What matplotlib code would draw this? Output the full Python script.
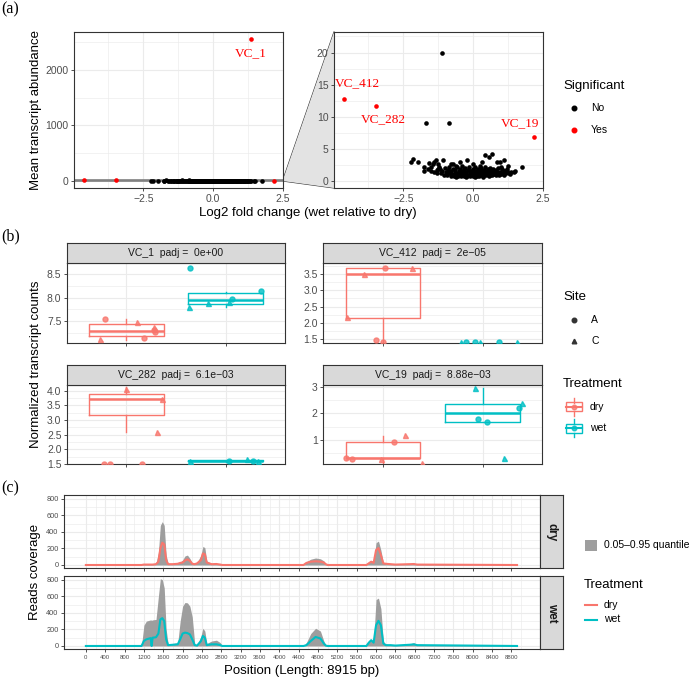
import numpy as np
import matplotlib
matplotlib.use("Agg")
import matplotlib.pyplot as plt
from matplotlib.patches import Rectangle, Polygon
from matplotlib.lines import Line2D

plt.rcParams['font.family'] = ['Liberation Sans', 'DejaVu Sans']

W, H = 697, 679
RED = '#F8766D'
TEAL = '#00BFC4'
GRID = '#ebebeb'
FRAME = '#333333'
TICKC = '#4d4d4d'
SERIF = ['Liberation Serif', 'DejaVu Serif']

# ---------------- (a) fold change vs abundance ----------------
sig_x = [1.34, -4.63, -3.48, 2.18]
sig_y = [2551, 12.8, 11.66, 6.8]
sig_lab = ['VC_1', 'VC_412', 'VC_282', 'VC_19']

ns_pts = [(-1.12, 20.0), (-1.67, 9.0), (-0.88, 9.0),
          (-2.24, 2.95), (-2.15, 3.42), (-1.98, 2.90), (-1.75, 2.13), (-1.75, 1.6),
          (-1.58, 2.75), (-1.44, 2.6), (-1.34, 3.3), (-1.39, 3.0), (-1.41, 1.45),
          (-1.07, 3.24), (-1.22, 2.2), (-0.81, 2.7), (-0.72, 2.6), (-0.47, 3.0),
          (-0.21, 3.27), (0.25, 2.33), (0.44, 4.05), (0.56, 3.7), (0.68, 4.27),
          (0.85, 2.88), (0.97, 2.9), (1.09, 3.2), (1.23, 2.38), (1.51, 1.5),
          (1.35, 1.45), (1.75, 2.2), (-1.6, 1.9), (-1.5, 2.2), (-1.3, 1.7),
          (-1.25, 2.6), (-0.6, 2.4), (0.0, 2.6), (0.3, 2.9), (1.0, 2.2), (1.1, 1.6),
          (1.2, 1.9), (1.45, 1.4), (-1.5, 1.5),
          (-1.2, 1.9), (-1.15, 1.3), (-1.1, 1.6), (-1.05, 1.0), (-1.0, 2.0), (-0.98, 1.4),
          (-0.95, 0.9), (-0.9, 1.7), (-0.88, 1.2), (-0.85, 2.2), (-0.8, 0.8), (-0.78, 1.5),
          (-0.75, 1.1), (-0.72, 1.9), (-0.7, 0.7), (-0.66, 1.3), (-0.64, 1.7), (-0.6, 1.0),
          (-0.58, 2.1), (-0.55, 0.8), (-0.52, 1.5), (-0.5, 1.2), (-0.48, 1.8), (-0.45, 0.7),
          (-0.42, 1.4), (-0.4, 2.3), (-0.38, 1.0), (-0.35, 1.6), (-0.32, 0.8), (-0.3, 1.2),
          (-0.28, 2.0), (-0.25, 1.4), (-0.22, 0.7), (-0.2, 1.7), (-0.18, 1.0), (-0.15, 2.2),
          (-0.12, 1.3), (-0.1, 0.8), (-0.08, 1.6), (-0.05, 1.1), (-0.02, 1.9), (0.0, 0.7),
          (0.02, 1.4), (0.05, 2.1), (0.08, 1.0), (0.1, 1.6), (0.12, 0.8), (0.15, 1.3),
          (0.18, 1.9), (0.2, 1.1), (0.22, 0.7), (0.25, 1.5), (0.28, 2.0), (0.3, 1.0),
          (0.32, 1.3), (0.35, 0.8), (0.38, 1.7), (0.4, 1.2), (0.42, 2.2), (0.45, 0.9),
          (0.48, 1.5), (0.5, 1.1), (0.52, 1.8), (0.55, 0.8), (0.58, 1.3), (0.6, 2.0),
          (0.62, 1.0), (0.65, 1.6), (0.68, 0.9), (0.7, 1.3), (0.72, 1.9), (0.75, 1.1),
          (0.78, 1.5), (0.8, 0.9), (0.83, 1.7), (0.86, 1.2), (0.9, 2.0), (0.93, 1.0),
          (0.96, 1.4), (1.0, 1.1), (1.03, 1.8), (1.06, 1.3), (1.1, 1.0), (1.14, 1.5),
          (1.18, 1.2), (1.22, 1.6), (1.28, 1.3), (1.32, 1.1), (-1.3, 1.2), (-1.25, 1.8),
          (-0.62, 0.6), (-0.27, 0.6), (0.07, 0.6), (0.37, 0.6), (-0.43, 1.0), (-0.13, 1.5),
          (0.17, 1.2), (-0.33, 1.8), (0.03, 1.2), (-0.07, 1.0), (0.27, 1.7), (0.45, 1.3),
          (-0.55, 1.3), (0.6, 1.5), (-0.85, 1.5), (0.85, 1.4)]
ns_x = [p[0] for p in ns_pts]
ns_y = [p[1] for p in ns_pts]

# ---------------- (b) boxplots ----------------
genes = ['VC_1', 'VC_412', 'VC_282', 'VC_19']
padj = ['0e+00', '2e\u221205', '6.1e\u221203', '8.88e\u221203']
# (jitter offset, value, site)
vc1_dry = [(-0.22, 7.54, 'A'), (-0.27, 7.12, 'C'), (0.11, 7.49, 'C'), (0.18, 7.14, 'A'),
           (0.28, 7.37, 'C'), (0.29, 7.26, 'A'), (0.28, 7.31, 'A')]
vc1_wet = [(-0.36, 8.64, 'A'), (-0.37, 7.81, 'C'), (-0.18, 7.88, 'C'), (0.07, 7.97, 'A'),
           (0.03, 7.91, 'C'), (0.36, 8.14, 'A')]
vc412_dry = [(0.02, 3.69, 'A'), (0.29, 3.70, 'C'), (-0.19, 3.51, 'C'), (-0.36, 2.18, 'C'),
             (-0.07, 1.47, 'A'), (0.0, 1.40, 'A')]
vc412_wet = [(-0.22, 1.41, 'C'), (-0.17, 1.41, 'A'), (-0.08, 1.41, 'A'), (-0.03, 1.41, 'C'),
             (0.17, 1.41, 'A'), (0.35, 1.41, 'C')]
vc282_dry = [(0.0, 4.08, 'C'), (0.36, 3.71, 'C'), (0.31, 2.6, 'C'), (-0.23, 1.5, 'A'),
             (-0.17, 1.5, 'A'), (0.16, 1.5, 'A')]
vc282_wet = [(-0.36, 1.59, 'C'), (0.03, 1.6, 'A'), (0.22, 1.67, 'C'), (0.28, 1.6, 'A'),
             (0.33, 1.6, 'C')]
vc19_dry = [(0.22, 1.2, 'C'), (0.11, 0.91, 'A'), (-0.37, 0.31, 'A'), (-0.31, 0.28, 'A'),
            (-0.02, 0.29, 'C'), (0.39, 0.12, 'C')]
vc19_wet = [(-0.08, 2.94, 'C'), (0.40, 2.4, 'C'), (0.37, 2.21, 'A'), (-0.05, 1.78, 'A'),
            (0.04, 1.66, 'A'), (0.22, 0.34, 'C')]
# (whislo, q1, median, q3, whishi)
vc1_box = [(7.11, 7.18, 7.29, 7.43, 7.54), (7.81, 7.87, 7.94, 8.10, 8.12)]
vc412_box = [(1.38, 2.16, 3.50, 3.69, 3.69), (1.30, 1.30, 1.30, 1.30, 1.30)]
vc282_box = [(2.60, 3.17, 3.71, 3.89, 4.14), (1.58, 1.59, 1.60, 1.62, 1.63)]
vc19_box = [(0.12, 0.31, 0.33, 0.91, 1.15), (1.66, 1.69, 2.00, 2.35, 2.94)]

# ---------------- (c) coverage ----------------
pos = [0, 1150, 1200, 1250, 1340, 1360, 1380, 1450, 1500, 1540, 1580, 1620, 1660, 1700,
       1800, 1900, 1950, 2000, 2050, 2100, 2150, 2200, 2250, 2300, 2380, 2420, 2460, 2500,
       2600, 2700, 2780, 2820, 4500, 4560, 4650, 4750, 4850, 4920, 4960, 5000, 5800, 5850,
       5900, 5950, 6000, 6050, 6100, 6150, 6200, 6300, 6400, 6700, 6780, 6850, 8915]
dry_mean = [0, 0, 5, 5, 5, 5, 5, 10, 40, 200, 270, 250, 60, 10,
            10, 15, 25, 30, 55, 68, 50, 15, 10, 20, 60, 140, 130, 30,
            10, 12, 5, 0, 0, 25, 40, 45, 40, 30, 10, 0, 0, 20,
            40, 25, 180, 205, 120, 20, 15, 10, 5, 10, 12, 5, 0]
dry_upper = [0, 0, 8, 8, 8, 8, 8, 20, 150, 480, 525, 480, 120, 20,
             15, 20, 35, 60, 110, 120, 80, 25, 15, 30, 120, 225, 210, 50,
             15, 15, 8, 0, 0, 40, 70, 85, 75, 50, 15, 0, 0, 30,
             55, 40, 270, 290, 180, 30, 20, 15, 8, 15, 18, 8, 0]
wet_mean = [0, 0, 60, 80, 95, 0, 100, 105, 150, 320, 336, 300, 80, 10,
            15, 20, 80, 150, 161, 155, 140, 80, 10, 5, 60, 121, 100, 10,
            20, 20, 10, 0, 0, 10, 60, 109, 90, 30, 5, 0, 0, 40,
            70, 40, 250, 303, 250, 30, 10, 10, 5, 15, 20, 10, 0]
wet_upper = [0, 0, 250, 300, 315, 310, 315, 320, 600, 812, 800, 700, 200, 30,
             30, 40, 300, 480, 525, 520, 480, 350, 30, 10, 120, 214, 180, 30,
             60, 70, 40, 0, 0, 40, 150, 214, 180, 60, 10, 0, 0, 60,
             70, 60, 560, 578, 450, 60, 20, 15, 8, 25, 40, 20, 0]

fig = plt.figure(figsize=(W / 100, H / 100), dpi=100)


def add_ax(l, t, r, b):
    return fig.add_axes([l / W, 1 - b / H, (r - l) / W, (b - t) / H])


def fx(x):
    return x / W


def fy(y):
    return 1 - y / H


def style(ax, xmaj, xmin, ymaj, ymin, size=7.5, xlabels=True):
    for s in ax.spines.values():
        s.set_color(FRAME)
        s.set_linewidth(0.8)
    ax.set_xticks(xmaj)
    ax.set_xticks(xmin, minor=True)
    ax.set_yticks(ymaj)
    ax.set_yticks(ymin, minor=True)
    ax.grid(which='major', color=GRID, lw=0.8)
    ax.grid(which='minor', color=GRID, lw=0.45)
    ax.set_axisbelow(True)
    ax.tick_params(which='major', length=2.5, width=0.6, color=FRAME,
                   labelcolor=TICKC, labelsize=size, pad=1.5)
    ax.tick_params(which='minor', length=0)
    if not xlabels:
        ax.set_xticklabels([])


def strip(l, t, r, b, text, rot=0, size=7.5, weight='normal'):
    s = add_ax(l, t, r, b)
    s.set_facecolor('#d9d9d9')
    s.set_xticks([])
    s.set_yticks([])
    for sp in s.spines.values():
        sp.set_color(FRAME)
        sp.set_linewidth(0.8)
    s.text(0.5, 0.5, text, transform=s.transAxes, ha='center', va='center',
           rotation=rot, fontsize=size, color='#1a1a1a', fontweight=weight)


# ---- panel (a)
axL = add_ax(74, 32, 283, 188)
axR = add_ax(334, 32, 543, 188)
for ax, ylim, ymaj, ymin in [(axL, (-126, 2677), [0, 1000, 2000], [500, 1500, 2500]),
                              (axR, (-1.1, 23.2), [0, 5, 10, 15, 20],
                               [2.5, 7.5, 12.5, 17.5, 22.5])]:
    ax.scatter(ns_x, ns_y, s=11, color='black', lw=0, zorder=3, clip_on=True)
    ax.scatter(sig_x, sig_y, s=11, color='red', lw=0, zorder=3)
    ax.set_xlim(-4.98, 2.5)
    ax.set_ylim(*ylim)
    style(ax, [-2.5, 0, 2.5], [-3.75, -1.25, 1.25], ymaj, ymin, size=7.5)

axL.add_patch(Rectangle((-4.98, -1.1), 7.48, 24.3, facecolor='#bdbdbd',
                        edgecolor='#808080', lw=1.2, zorder=2))

# labels: the big one on the overview, the rest in the zoomed panel
label_off = [(0, -10), (10, 11), (5, -9.5), (-10, 10.5)]
for x, y, lab, off in zip(sig_x, sig_y, sig_lab, label_off):
    ax = axL if y > 23.2 else axR
    ax.annotate(lab, (x, y), xytext=off, textcoords='offset points',
                ha='center', va='center', color='red', fontsize=9.5,
                family=SERIF, annotation_clip=False)

# zoom trapezoid
inv = fig.transFigure.inverted()
p_top = inv.transform(axL.transData.transform((2.5, 23.2)))
p_bot = inv.transform(axL.transData.transform((2.5, -1.1)))
q_top = inv.transform(axR.transAxes.transform((0, 1)))
q_bot = inv.transform(axR.transAxes.transform((0, 0)))
fig.patches.append(Polygon([p_top, q_top, q_bot, p_bot], closed=True,
                           facecolor='#e3e3e3', edgecolor='none',
                           transform=fig.transFigure, zorder=-1))
for a, b in [(p_top, q_top), (p_bot, q_bot)]:
    fig.lines.append(Line2D([a[0], b[0]], [a[1], b[1]], color=FRAME, lw=0.8,
                            transform=fig.transFigure, zorder=-1))

fig.text(fx(36), fy(110), 'Mean transcript abundance', rotation=90, ha='center',
         va='center', fontsize=9.5)
fig.text(fx(308), fy(213), 'Log2 fold change (wet relative to dry)', ha='center',
         va='center', fontsize=9.5)
fig.text(fx(563), fy(86), 'Significant', ha='left', va='center', fontsize=9.5)
for yy, c, lab in [(108, 'black', 'No'), (130, 'red', 'Yes')]:
    fig.lines.append(Line2D([fx(574)], [fy(yy)], marker='o', ms=3.3, color=c, lw=0,
                            transform=fig.transFigure))
    fig.text(fx(591), fy(yy), lab, ha='left', va='center', fontsize=7.5)

# ---- panel (b)
b_pts = [(vc1_dry, vc1_wet), (vc412_dry, vc412_wet), (vc282_dry, vc282_wet),
         (vc19_dry, vc19_wet)]
b_box = [vc1_box, vc412_box, vc282_box, vc19_box]
b_ylim = [(7.03, 8.73), (1.37, 3.83), (1.49, 4.2), (0.09, 3.06)]
b_ymaj = [[7.5, 8.0, 8.5], [1.5, 2.0, 2.5, 3.0, 3.5], [1.5, 2.0, 2.5, 3.0, 3.5, 4.0],
          [1, 2, 3]]
b_ymin = [[7.25, 7.75, 8.25], [1.75, 2.25, 2.75, 3.25, 3.75],
          [1.75, 2.25, 2.75, 3.25, 3.75], [0.5, 1.5, 2.5]]
b_fmt = ['%.1f', '%.1f', '%.1f', '%d']
b_rect = [(67, 263.3, 285, 343.3), (323.3, 263.3, 542.3, 343.3),
          (67, 385, 285, 464.3), (323.3, 385, 542.3, 464.3)]

for i, g in enumerate(genes):
    l, t, r, b = b_rect[i]
    ax = add_ax(l, t, r, b)
    strip(l, t - 20.5, r, t, f'{g}  padj =  {padj[i]}', size=7.5)
    stats = []
    for j, bx in enumerate(b_box[i]):
        stats.append(dict(whislo=bx[0], q1=bx[1], med=bx[2], q3=bx[3], whishi=bx[4],
                          fliers=[]))
    for j, col in enumerate([RED, TEAL]):
        ax.bxp([stats[j]], positions=[j + 1], widths=0.75, showfliers=False,
               boxprops=dict(color=col, lw=1.0), whiskerprops=dict(color=col, lw=1.0),
               capprops=dict(lw=0), medianprops=dict(color=col, lw=1.8),
               manage_ticks=False)
        for off, v, site in b_pts[i][j]:
            ax.plot(j + 1 + off, v, marker='o' if site == 'A' else '^', ms=3.6,
                    color=col, alpha=0.8, lw=0, zorder=4, clip_on=True)
    ax.set_xlim(0.4, 2.6)
    ax.set_ylim(*b_ylim[i])
    style(ax, [1, 2], [], b_ymaj[i], b_ymin[i], size=7.5, xlabels=False)
    ax.yaxis.set_major_formatter(matplotlib.ticker.FormatStrFormatter(b_fmt[i]))

fig.text(fx(36), fy(364), 'Normalized transcript counts', rotation=90, ha='center',
         va='center', fontsize=9.5)
fig.text(fx(563), fy(297), 'Site', ha='left', va='center', fontsize=9.5)
for yy, m, lab in [(320, 'o', 'A'), (341, '^', 'C')]:
    fig.lines.append(Line2D([fx(573.5)], [fy(yy)], marker=m, ms=3.3, color='#333333',
                            lw=0, transform=fig.transFigure))
    fig.text(fx(591), fy(yy), lab, ha='left', va='center', fontsize=7.5)
fig.text(fx(563), fy(384), 'Treatment', ha='left', va='center', fontsize=9.5)
for yy, col, lab in [(407, RED, 'dry'), (428, TEAL, 'wet')]:
    fig.patches.append(Rectangle((fx(565.5), fy(yy + 4.5)), (581.5 - 565.5) / W, 9 / H,
                                 facecolor='white', edgecolor=col, lw=1.0,
                                 transform=fig.transFigure))
    fig.lines.append(Line2D([fx(573.5), fx(573.5)], [fy(yy - 9), fy(yy - 4.5)], color=col,
                            lw=1.0, transform=fig.transFigure))
    fig.lines.append(Line2D([fx(573.5), fx(573.5)], [fy(yy + 4.5), fy(yy + 9)], color=col,
                            lw=1.0, transform=fig.transFigure))
    fig.lines.append(Line2D([fx(565.5), fx(581.5)], [fy(yy), fy(yy)], color=col,
                            lw=1.5, transform=fig.transFigure))
    fig.lines.append(Line2D([fx(573.5)], [fy(yy)], marker='o', ms=3.3, color=col,
                            alpha=0.8, lw=0, transform=fig.transFigure))
    fig.text(fx(590), fy(yy), lab, ha='left', va='center', fontsize=7.5)

# ---- panel (c)
c_rect = [(64.3, 495, 540, 568.3), (64.3, 575.7, 540, 649.3)]
c_series = [(dry_mean, dry_upper, RED, 'dry'), (wet_mean, wet_upper, TEAL, 'wet')]
for i, (mean, upper, col, lab) in enumerate(c_series):
    l, t, r, b = c_rect[i]
    ax = add_ax(l, t, r, b)
    strip(r, t, r + 23.3, b, lab, rot=-90, size=8.5, weight='bold')
    ax.fill_between(pos, 0, upper, color='#9e9e9e', lw=0, zorder=2)
    ax.plot(pos, mean, color=col, lw=1.5, zorder=3)
    ax.set_xlim(-446, 9390)
    ax.set_ylim(-40, 848)
    style(ax, list(range(0, 8801, 400)), list(range(200, 9001, 400)),
          [0, 200, 400, 600, 800], [100, 300, 500, 700], size=5.3,
          xlabels=(i == 1))
    ax.tick_params(axis='x', labelsize=4.3)

fig.text(fx(35), fy(572), 'Reads coverage', rotation=90, ha='center', va='center',
         fontsize=9.5)
fig.text(fx(302), fy(671), 'Position (Length: 8915 bp)', ha='center', va='center',
         fontsize=9.5)
fig.patches.append(Rectangle((fx(585), fy(551)), 11.7 / W, 11.5 / H, facecolor='#9e9e9e',
                             edgecolor='none', transform=fig.transFigure))
fig.text(fx(604), fy(545), '0.05\u20130.95 quantile', ha='left', va='center', fontsize=7.5)
fig.text(fx(584), fy(585), 'Treatment', ha='left', va='center', fontsize=9.5)
for yy, col, lab in [(605, RED, 'dry'), (619.5, TEAL, 'wet')]:
    fig.lines.append(Line2D([fx(585), fx(597)], [fy(yy), fy(yy)], color=col, lw=1.5,
                            transform=fig.transFigure))
    fig.text(fx(604), fy(yy), lab, ha='left', va='center', fontsize=7.5)

for lab, yy in [('(a)', 9), ('(b)', 236), ('(c)', 488)]:
    fig.text(fx(1), fy(yy), lab, ha='left', va='center', fontsize=11.5, family=SERIF)

fig.savefig('out.png', dpi=100)
